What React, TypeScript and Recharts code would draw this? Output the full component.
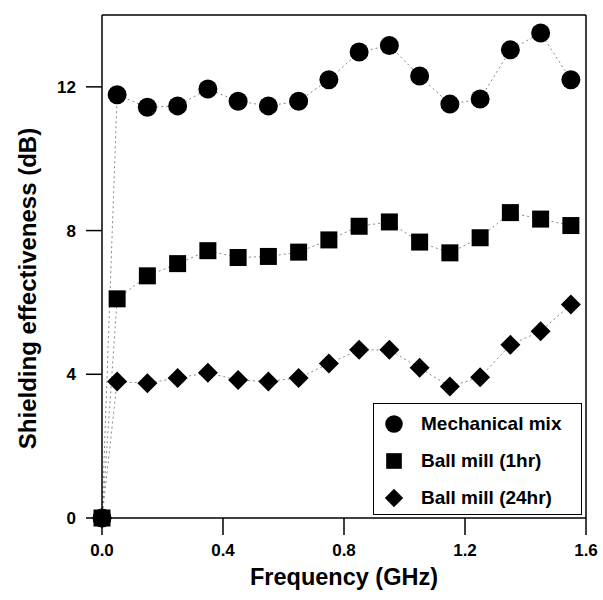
import React from "react";
import {
  LineChart,
  Line,
  XAxis,
  YAxis,
  ReferenceLine,
} from "recharts";

const frequency = [0, 0.05, 0.15, 0.25, 0.35, 0.45, 0.55, 0.65, 0.75, 0.85, 0.95, 1.05, 1.15, 1.25, 1.35, 1.45, 1.55];
const mechanicalMix = [0, 11.78, 11.43, 11.47, 11.94, 11.6, 11.47, 11.6, 12.2, 12.97, 13.15, 12.3, 11.52, 11.66, 13.03, 13.5, 12.2];
const ballMill1hr = [0, 6.1, 6.74, 7.08, 7.44, 7.25, 7.28, 7.4, 7.74, 8.12, 8.24, 7.68, 7.38, 7.8, 8.5, 8.32, 8.14];
const ballMill24hr = [0, 3.8, 3.75, 3.9, 4.04, 3.84, 3.8, 3.9, 4.3, 4.68, 4.68, 4.18, 3.66, 3.92, 4.82, 5.2, 5.94];
const xTicks = [0, 0.4, 0.8, 1.2, 1.6];
const yTicks = [0, 4, 8, 12];

type ShapeKind = "circle" | "square" | "diamond";

// drawn in this order, so the square ends up on top at the origin
const seriesList: { key: string; name: string; shape: ShapeKind }[] = [
  { key: "mech", name: "Mechanical mix", shape: "circle" },
  { key: "bm24", name: "Ball mill (24hr)", shape: "diamond" },
  { key: "bm1", name: "Ball mill (1hr)", shape: "square" },
];

const legendOrder = ["mech", "bm1", "bm24"];

const data = frequency.map((f, i) => ({
  f,
  mech: mechanicalMix[i],
  bm1: ballMill1hr[i],
  bm24: ballMill24hr[i],
}));

const FONT = '"Liberation Sans", Arial, sans-serif';

function Marker({ cx, cy, shape, scale = 1 }: { cx: number; cy: number; shape: ShapeKind; scale?: number }) {
  if (shape === "circle") return <circle cx={cx} cy={cy} r={9.5 * scale} fill="#000" />;
  if (shape === "square") {
    const s = 8.5 * scale;
    return <rect x={cx - s} y={cy - s} width={s * 2} height={s * 2} fill="#000" />;
  }
  const d = 10 * scale;
  return <polygon points={`${cx},${cy - d} ${cx + d},${cy} ${cx},${cy + d} ${cx - d},${cy}`} fill="#000" />;
}

function LegendBox() {
  return (
    <div
      style={{
        position: "absolute",
        left: 373,
        top: 403,
        width: 209,
        height: 112,
        border: "1px solid #000",
        background: "#fff",
        boxSizing: "border-box",
        paddingTop: 1,
      }}
    >
      {legendOrder.map((k) => {
        const s = seriesList.find((x) => x.key === k)!;
        return (
          <div key={k} style={{ display: "flex", alignItems: "center", height: 37 }}>
            <svg width={40} height={24}>
              <Marker cx={20} cy={12} shape={s.shape} scale={0.92} />
            </svg>
            <span style={{ fontFamily: FONT, fontWeight: "bold", fontSize: 19, marginLeft: 7 }}>{s.name}</span>
          </div>
        );
      })}
    </div>
  );
}

export default function App() {
  return (
    <div style={{ position: "absolute", left: 0, top: 0, width: 603, height: 600, background: "#fff" }}>
      <LineChart width={603} height={600} data={data} margin={{ top: 15, right: 17, left: 0, bottom: 0 }}>
        <XAxis
          dataKey="f"
          type="number"
          domain={[0, 1.6]}
          ticks={xTicks}
          tickFormatter={(v: number) => v.toFixed(1)}
          height={82}
          tickSize={17}
          tickMargin={9}
          axisLine={{ stroke: "#000", strokeWidth: 1.5 }}
          tickLine={{ stroke: "#000", strokeWidth: 1.5 }}
          tick={{ fill: "#000", fontFamily: FONT, fontWeight: "bold", fontSize: 17 }}
          label={{
            content: ({ viewBox }: any) => (
              <text
                x={viewBox.x + viewBox.width / 2}
                y={viewBox.y + 67}
                textAnchor="middle"
                fontFamily={FONT}
                fontWeight="bold"
                fontSize={23.5}
                fill="#000"
              >
                Frequency (GHz)
              </text>
            ),
          }}
        />
        <YAxis
          type="number"
          domain={[0, 14]}
          ticks={yTicks}
          width={102}
          tickSize={16}
          tickMargin={10}
          axisLine={{ stroke: "#000", strokeWidth: 1.5 }}
          tickLine={{ stroke: "#000", strokeWidth: 1.5 }}
          tick={{ fill: "#000", fontFamily: FONT, fontWeight: "bold", fontSize: 17 }}
          label={{
            content: ({ viewBox }: any) => {
              const cx = viewBox.x + 36;
              const cy = viewBox.y + viewBox.height / 2 + 22;
              return (
                <text
                  x={cx}
                  y={cy}
                  transform={`rotate(-90 ${cx} ${cy})`}
                  textAnchor="middle"
                  fontFamily={FONT}
                  fontWeight="bold"
                  fontSize={24}
                  fill="#000"
                >
                  Shielding effectiveness (dB)
                </text>
              );
            },
          }}
        />
        <ReferenceLine y={14} stroke="#000" strokeWidth={1.5} />
        <ReferenceLine x={1.6} stroke="#000" strokeWidth={1.5} />
        {seriesList.map((s) => (
          <Line
            key={s.key}
            dataKey={s.key}
            name={s.name}
            type="linear"
            stroke="#888"
            strokeWidth={1}
            strokeDasharray="2 3"
            isAnimationActive={false}
            activeDot={false}
            dot={(p: any) => <Marker key={`${s.key}-${p.index}`} cx={p.cx} cy={p.cy} shape={s.shape} />}
          />
        ))}
      </LineChart>
      <LegendBox />
    </div>
  );
}
